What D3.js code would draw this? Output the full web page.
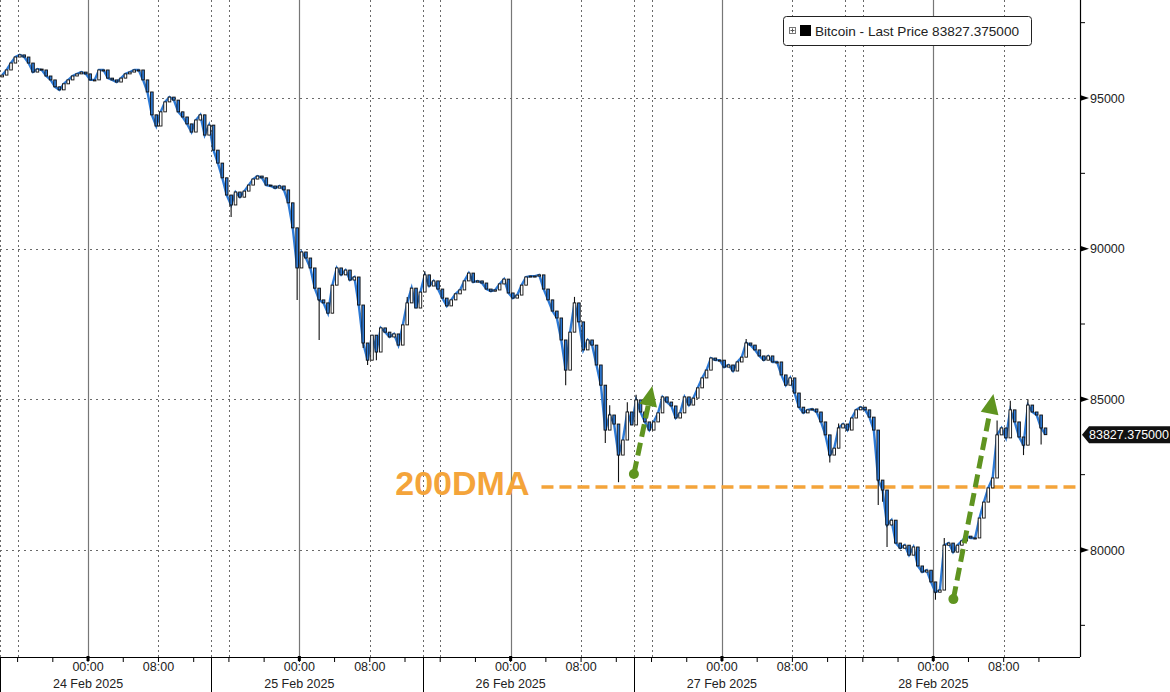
<!DOCTYPE html>
<html><head><meta charset="utf-8">
<script src="https://cdn.jsdelivr.net/npm/d3@7"></script>
<style>
body{margin:0;background:#fff;}
svg{display:block;font-family:"Liberation Sans",Arial,sans-serif;}
</style>
</head><body>
<svg id="chart" width="1170" height="692"></svg>
<script>
// ---------- data ----------
const startTime = "2025-02-23T14:00:00Z";
const endTime = "2025-02-28T16:40:00Z";
const barMinutes = 30;
const firstOpen = 95700;
const closes = [
95760,95930,96160,96360,96430,96360,96160,95860,95960,95930,
95730,95600,95370,95270,95470,95600,95730,95800,95860,95800,
95600,95600,95930,95930,95660,95600,95530,95660,95800,95860,
95930,95930,95600,95200,94440,94070,94540,94870,95030,94930,
94540,94370,94140,93870,94270,94440,93770,94100,93270,92840,
92350,91780,91450,91880,91710,91910,92110,92310,92410,92350,
92110,92080,92010,92080,91950,91520,90690,89360,89890,89690,
89360,88690,88300,88200,87860,88790,89360,89130,89290,88960,
89060,88130,86870,86300,87130,86570,87370,87230,87070,87170,
86800,87470,88200,88690,88030,88560,89130,88760,88930,88660,
88360,88100,88300,88500,88630,88930,89190,88890,88930,88860,
88660,88590,88630,88830,88990,88530,88360,88460,88790,89060,
89090,89090,89130,88660,88300,87930,87700,86970,85970,87230,
88200,87570,86640,86970,86800,86140,85470,83980,84480,84180,
83150,83650,84580,84150,84980,84580,84250,83980,84250,84550,
85080,84910,84780,84380,84550,85080,84810,85040,85380,85710,
85970,86370,86300,86300,86070,86140,85940,86240,86400,86870,
86800,86640,86440,86300,86440,86240,86240,85810,85470,85710,
85210,84740,84550,84650,84680,84580,84250,83820,83150,83380,
84050,84180,83980,84380,84650,84740,84650,84410,83980,82320,
81990,80830,80990,80230,80060,80160,79830,80100,79470,79270,
79330,78940,78600,78670,80160,80230,79930,80160,80300,80460,
80400,80400,81060,81590,82060,82390,83820,84050,83720,84650,
84250,83750,83480,84810,84580,84480,84050,83827.375
];
// sparse wick extremes: [bar index, low, high]
const wicks = [
[34,null,94900],[52,91050,null],[67,88300,null],[72,86970,null],[82,86700,null],
[83,86140,null],[85,86300,null],[92,null,88400],[96,null,89250],
[128,85470,null],[130,null,88400],[131,null,88100],[137,83550,null],[138,null,84800],
[140,82250,null],[142,null,84900],[144,null,85150],[169,null,87000],
[188,82900,null],[190,null,84200],[199,81490,null],[200,81600,null],
[201,80100,null],[212,78350,null],[214,null,80400],[226,null,84300],
[229,null,84950],[232,83150,null],[233,null,85000],[236,83500,null]
];
const seriesName = "Bitcoin - Last Price";
const lastPrice = 83827.375;
const dmaValue = 82090;
const dmaLabel = "200DMA";
const dmaStart = "2025-02-26T03:30:00Z";
const yMajorTicks = [80000, 85000, 90000, 95000];
const yMinorTicks = [77500, 82500, 87500, 92500, 97500];
const dayStarts = ["2025-02-24","2025-02-25","2025-02-26","2025-02-27","2025-02-28"];
const dayLabels = ["24 Feb 2025","25 Feb 2025","26 Feb 2025","27 Feb 2025","28 Feb 2025"];
const timeLabels = ["00:00","08:00"];
const arrows = [
  {from:["2025-02-26T14:00:00Z",82520], to:["2025-02-26T16:05:00Z",85440]},
  {from:["2025-02-28T02:17:00Z",78370], to:["2025-02-28T06:50:00Z",85180]}
];

// ---------- layout ----------
const W = 1170, H = 692;
const plotRight = 1080, axisY = 657;
const svg = d3.select("#chart");
const H1 = 3600e3;
const t0 = new Date(startTime);
const x = d3.scaleUtc().domain([t0, new Date(endTime)]).range([0, plotRight]);
const y = d3.scaleLinear().domain([80000, 95000]).range([550, 98]);
const lastDataTime = new Date(t0.getTime() + closes.length * barMinutes * 60e3);

svg.append("rect").attr("width", W).attr("height", H).attr("fill", "#fff");

// ---------- grid ----------
const grid = svg.append("g");
const dotted = [], solid = [], seps = [];
for (let t = t0.getTime(); t <= lastDataTime.getTime(); t += H1) {
  const d = new Date(t), h = d.getUTCHours();
  if (h === 0) solid.push(d);
  else if (h === 8 || h === 16) dotted.push(d);
  else if (h === 14) seps.push(d);
}
grid.selectAll(".vd").data(dotted.concat(seps)).join("line")
  .attr("x1", d => Math.round(x(d)) + 0.5).attr("x2", d => Math.round(x(d)) + 0.5)
  .attr("y1", 0).attr("y2", axisY)
  .attr("stroke", "#6a6a6a").attr("stroke-width", 1).attr("stroke-dasharray", "2,3");
grid.selectAll(".vs").data(solid).join("line")
  .attr("x1", d => Math.round(x(d)) + 0.5).attr("x2", d => Math.round(x(d)) + 0.5)
  .attr("y1", 0).attr("y2", axisY)
  .attr("stroke", "#777").attr("stroke-width", 1.2);
grid.selectAll(".hd").data(yMajorTicks).join("line")
  .attr("x1", 0).attr("x2", plotRight)
  .attr("y1", d => Math.round(y(d)) + 0.5).attr("y2", d => Math.round(y(d)) + 0.5)
  .attr("stroke", "#6a6a6a").attr("stroke-width", 1).attr("stroke-dasharray", "2,4");

// ---------- 200DMA ----------
svg.append("line")
  .attr("x1", x(new Date(dmaStart))).attr("x2", plotRight - 2)
  .attr("y1", y(dmaValue)).attr("y2", y(dmaValue))
  .attr("stroke", "#F4A43A").attr("stroke-width", 3.5).attr("stroke-dasharray", "12,6");
svg.append("text")
  .attr("x", x(new Date(dmaStart)) - 12).attr("y", y(dmaValue) + 8)
  .attr("text-anchor", "end")
  .attr("font-size", 34).attr("font-weight", "bold").attr("fill", "#F4A43A")
  .text(dmaLabel);

// ---------- price series ----------
const bars = closes.map((c, i) => {
  const o = i === 0 ? firstOpen : closes[i - 1];
  const t = new Date(t0.getTime() + (i + 0.5) * barMinutes * 60e3);
  let lo = Math.min(o, c), hi = Math.max(o, c);
  const w = wicks.find(k => k[0] === i);
  if (w) { if (w[1] != null) lo = Math.min(lo, w[1]); if (w[2] != null) hi = Math.max(hi, w[2]); }
  return {t, o, c, lo, hi};
});
const line = d3.line().x(d => x(d.t)).y(d => y(d.c));
svg.append("path").datum(bars).attr("d", line)
  .attr("fill", "none").attr("stroke", "#2D7AD6").attr("stroke-width", 2.4);
const cg = svg.append("g");
cg.selectAll("line").data(bars).join("line")
  .attr("x1", d => x(d.t)).attr("x2", d => x(d.t))
  .attr("y1", d => y(d.hi)).attr("y2", d => y(d.lo))
  .attr("stroke", "#111").attr("stroke-width", 1.1);
cg.selectAll("rect").data(bars).join("rect")
  .attr("x", d => x(d.t) - 1.3).attr("width", 2.6)
  .attr("y", d => y(Math.max(d.o, d.c)))
  .attr("height", d => Math.max(1, Math.abs(y(d.o) - y(d.c))))
  .attr("fill", d => d.c >= d.o ? "#fff" : "#2D7AD6")
  .attr("stroke", "#111").attr("stroke-width", 0.9);

// ---------- arrows ----------
const green = "#5F9420";
arrows.forEach(a => {
  const x1 = x(new Date(a.from[0])), y1 = y(a.from[1]);
  const x2 = x(new Date(a.to[0])), y2 = y(a.to[1]);
  const ang = Math.atan2(y2 - y1, x2 - x1);
  const headLen = 20, headW = 9;
  const bx = x2 - headLen * Math.cos(ang), by = y2 - headLen * Math.sin(ang);
  svg.append("line").attr("x1", x1).attr("y1", y1).attr("x2", bx).attr("y2", by)
    .attr("stroke", green).attr("stroke-width", 5).attr("stroke-dasharray", "13,6");
  svg.append("circle").attr("cx", x1).attr("cy", y1).attr("r", 5).attr("fill", green);
  const px = -Math.sin(ang), py = Math.cos(ang);
  svg.append("polygon")
    .attr("points", [[x2, y2], [bx + px * headW, by + py * headW], [bx - px * headW, by - py * headW]].map(p => p.join(",")).join(" "))
    .attr("fill", green);
});

// ---------- right axis ----------
const ra = svg.append("g");
ra.append("line").attr("x1", plotRight + 0.5).attr("x2", plotRight + 0.5).attr("y1", 0).attr("y2", axisY)
  .attr("stroke", "#000").attr("stroke-width", 1.2);
ra.selectAll(".mj").data(yMajorTicks).join("polygon")
  .attr("points", d => `${plotRight},${y(d) - 3} ${plotRight + 9},${y(d)} ${plotRight},${y(d) + 3}`)
  .attr("fill", "#000");
ra.selectAll(".mn").data(yMinorTicks).join("line")
  .attr("x1", plotRight).attr("x2", plotRight + 5)
  .attr("y1", d => y(d)).attr("y2", d => y(d)).attr("stroke", "#000");
ra.selectAll("text").data(yMajorTicks).join("text")
  .attr("x", plotRight + 10).attr("y", d => y(d) + 4.5)
  .attr("font-size", 12.5).attr("fill", "#222").text(d => d);
const ly = y(lastPrice);
ra.append("polygon")
  .attr("points", `${plotRight + 2},${ly} ${plotRight + 9},${ly - 8.5} ${W},${ly - 8.5} ${W},${ly + 8.5} ${plotRight + 9},${ly + 8.5}`)
  .attr("fill", "#111");
ra.append("text").attr("x", plotRight + 9).attr("y", ly + 4.5)
  .attr("font-size", 12.5).attr("fill", "#fff").text(lastPrice.toFixed(6));

// ---------- bottom axis ----------
const ba = svg.append("g");
ba.append("line").attr("x1", 0).attr("x2", plotRight).attr("y1", axisY + 0.5).attr("y2", axisY + 0.5)
  .attr("stroke", "#000").attr("stroke-width", 1.2);
const ticks4 = [];
for (let t = t0.getTime(); t <= lastDataTime.getTime(); t += H1) {
  const d = new Date(t); if (d.getUTCHours() % 4 === 0) ticks4.push(d);
}
ba.selectAll(".t4").data(ticks4).join("line")
  .attr("x1", d => x(d)).attr("x2", d => x(d))
  .attr("y1", axisY).attr("y2", axisY + 5).attr("stroke", "#000");
ba.selectAll(".t0").data(solid).join("rect")
  .attr("x", d => x(d) - 1.5).attr("width", 3).attr("y", axisY - 1).attr("height", 5).attr("fill", "#000");
ba.selectAll(".sep").data(seps).join("line")
  .attr("x1", d => Math.round(x(d)) + 0.5).attr("x2", d => Math.round(x(d)) + 0.5)
  .attr("y1", axisY).attr("y2", H).attr("stroke", "#000");
dayStarts.forEach((ds, i) => {
  const d0 = new Date(ds + "T00:00:00Z");
  timeLabels.forEach(tl => {
    const hh = +tl.slice(0, 2);
    ba.append("text").attr("x", x(new Date(d0.getTime() + hh * H1))).attr("y", axisY + 14)
      .attr("text-anchor", "middle").attr("font-size", 12.5).attr("fill", "#222").text(tl);
  });
  ba.append("text").attr("x", x(d0)).attr("y", axisY + 31)
    .attr("text-anchor", "middle").attr("font-size", 12.5).attr("fill", "#222").text(dayLabels[i]);
});

// ---------- legend ----------
const lg = svg.append("g");
lg.append("rect").attr("x", 783.5).attr("y", 16.5).attr("width", 248).attr("height", 29).attr("rx", 3)
  .attr("fill", "#fff").attr("stroke", "#222");
lg.append("rect").attr("x", 789.5).attr("y", 27.5).attr("width", 6).attr("height", 6).attr("fill", "none").attr("stroke", "#777");
lg.append("line").attr("x1", 790.5).attr("x2", 794.5).attr("y1", 30.5).attr("y2", 30.5).attr("stroke", "#555");
lg.append("line").attr("x1", 792.5).attr("x2", 792.5).attr("y1", 28.5).attr("y2", 32.5).attr("stroke", "#555");
lg.append("rect").attr("x", 800).attr("y", 25).attr("width", 11).attr("height", 11).attr("fill", "#000");
lg.append("text").attr("x", 815).attr("y", 36).attr("font-size", 13.6).attr("fill", "#222")
  .text(`${seriesName} ${lastPrice.toFixed(6)}`);
</script>
</body></html>
